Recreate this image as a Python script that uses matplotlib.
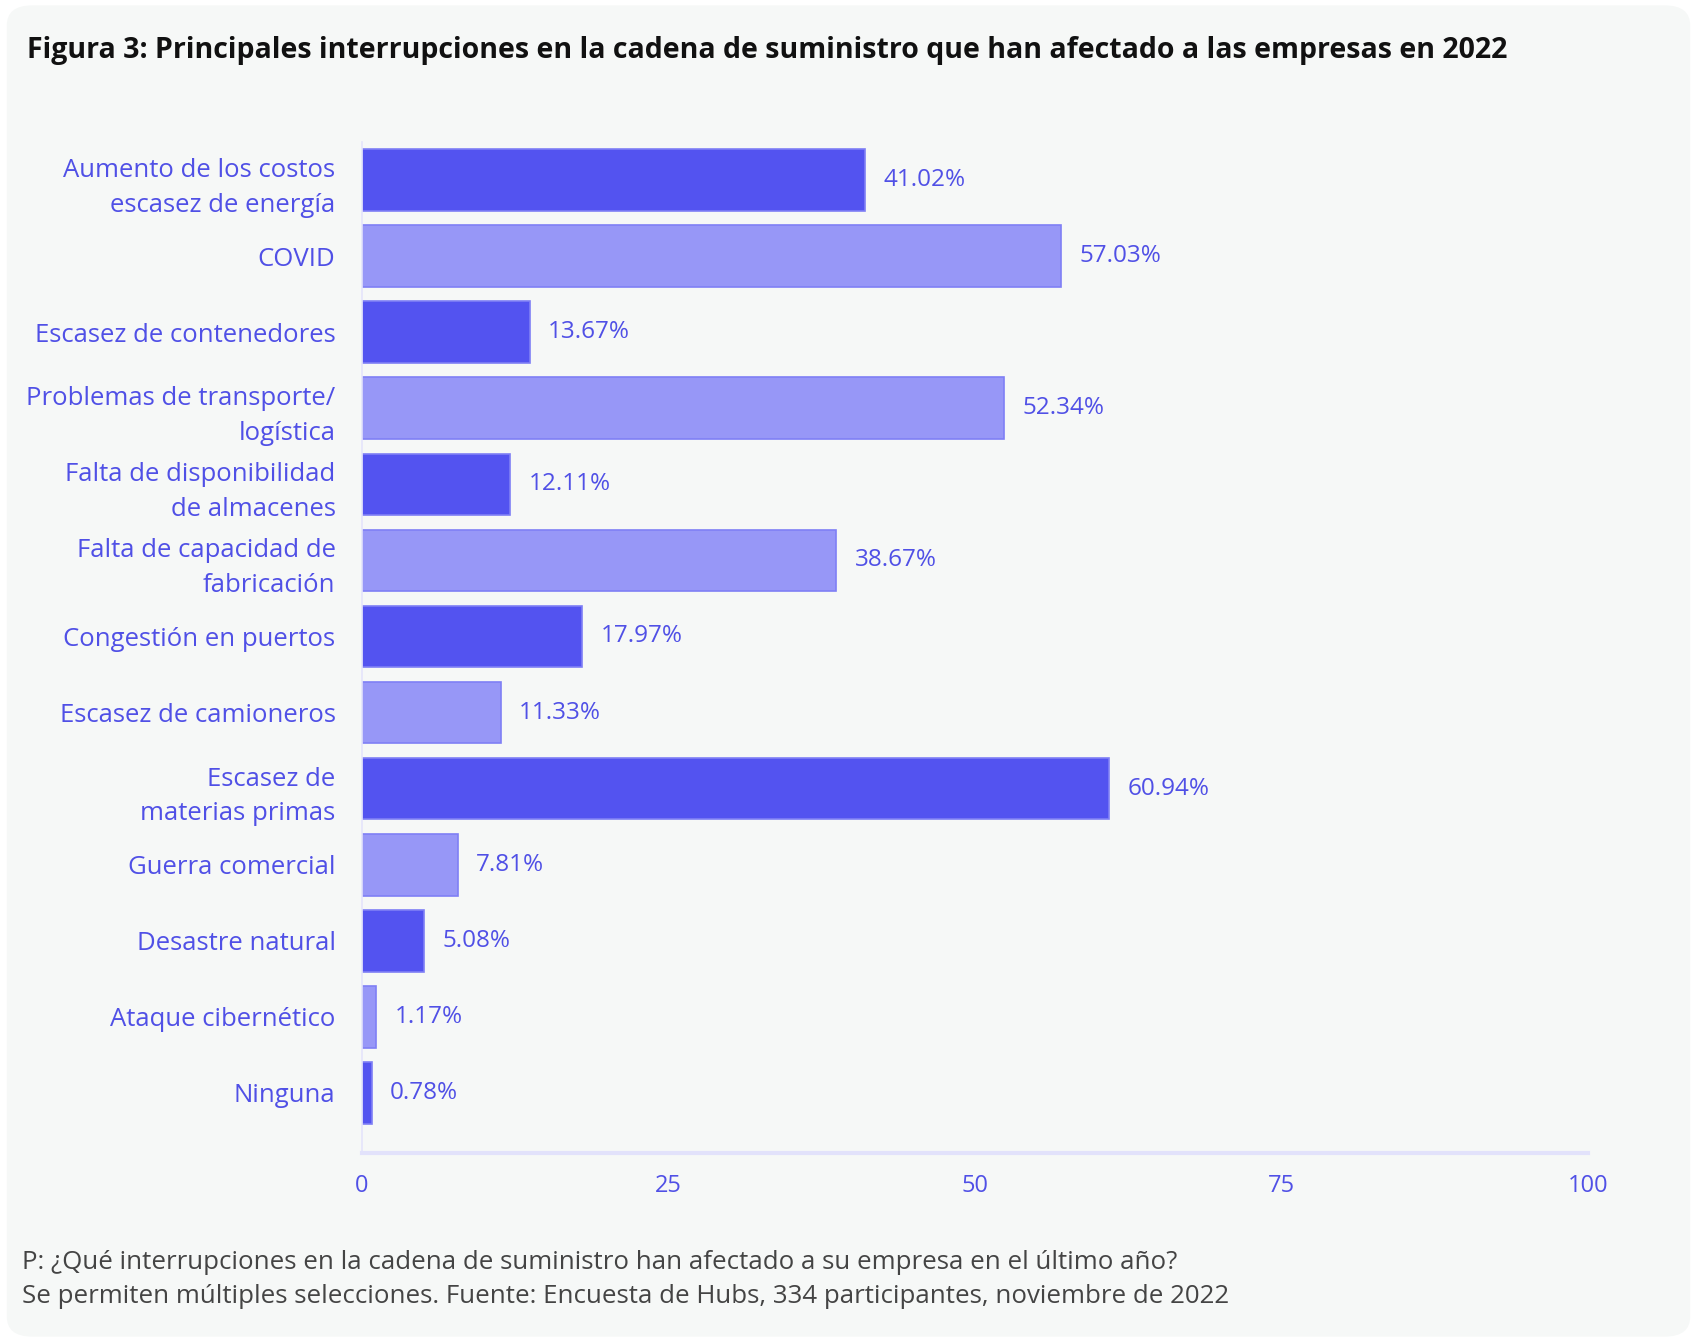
import numpy as np
import matplotlib.pyplot as plt
from matplotlib.patches import FancyBboxPatch

# data
categories = ['Aumento de los costos\nescasez de energía', 'COVID', 'Escasez de contenedores',
              'Problemas de transporte/\nlogística', 'Falta de disponibilidad\nde almacenes',
              'Falta de capacidad de\nfabricación', 'Congestión en puertos',
              'Escasez de camioneros', 'Escasez de\nmaterias primas', 'Guerra comercial',
              'Desastre natural', 'Ataque cibernético', 'Ninguna']
values = [41.02, 57.03, 13.67, 52.34, 12.11, 38.67, 17.97, 11.33, 60.94, 7.81, 5.08, 1.17, 0.78]
xticks = [0, 25, 50, 75, 100]

title = 'Figura 3: Principales interrupciones en la cadena de suministro que han afectado a las empresas en 2022'
footer = ('P: ¿Qué interrupciones en la cadena de suministro han afectado a su empresa en el último año?\n'
          'Se permiten múltiples selecciones. Fuente: Encuesta de Hubs, 334 participantes, noviembre de 2022')

dark = '#5353F0'
light = '#9797F7'
txt = '#5050E6'
bg = '#F6F8F7'

plt.rcParams['font.family'] = ['Open Sans', 'DejaVu Sans']

fig = plt.figure(figsize=(16.97, 13.42), dpi=100, facecolor='white')
fig.patches.append(FancyBboxPatch((0.004, 0.004), 0.992, 0.992, boxstyle='round,pad=0,rounding_size=0.015',
                                  transform=fig.transFigure, facecolor=bg, edgecolor='none', zorder=-10))

ax = fig.add_axes([0.2133, 0.1408, 0.7225, 0.7534])
ax.set_facecolor('none')

y = np.arange(len(categories))
colors = [dark if i % 2 == 0 else light for i in range(len(categories))]
bars = ax.barh(y, values, height=0.81, color=colors, edgecolor='#7F7FF5', linewidth=1.2)

for yi, v in zip(y, values):
    ax.text(v + 1.5, yi, f'{v:.2f}%', va='center', ha='left', fontsize=17.5,
            fontweight='medium', color=txt)

ax.set_xlim(0, 100)
ax.set_ylim(len(categories) - 0.21, -0.5)
ax.set_yticks(y)
ax.set_yticklabels(categories, fontsize=18.5, color=txt, linespacing=1.5)
ax.set_xticks(xticks)
ax.set_xticklabels([str(t) for t in xticks], fontsize=17, color=txt)
ax.tick_params(axis='y', length=0, pad=19)
ax.tick_params(axis='x', length=0, pad=15)

for s in ['top', 'right']:
    ax.spines[s].set_visible(False)
ax.spines['left'].set_color('#E4E4FB')
ax.spines['left'].set_linewidth(1.2)
ax.spines['bottom'].set_color('#E2E2FB')
ax.spines['bottom'].set_linewidth(3)

fig.text(0.016, 0.962, title, fontsize=20.5, fontweight='bold', color='#111111', va='center', ha='left')
fig.text(0.013, 0.0465, footer, fontsize=18.6, color='#444444', va='center', ha='left', linespacing=1.45)

fig.savefig('out.png', dpi=100, facecolor='white')
